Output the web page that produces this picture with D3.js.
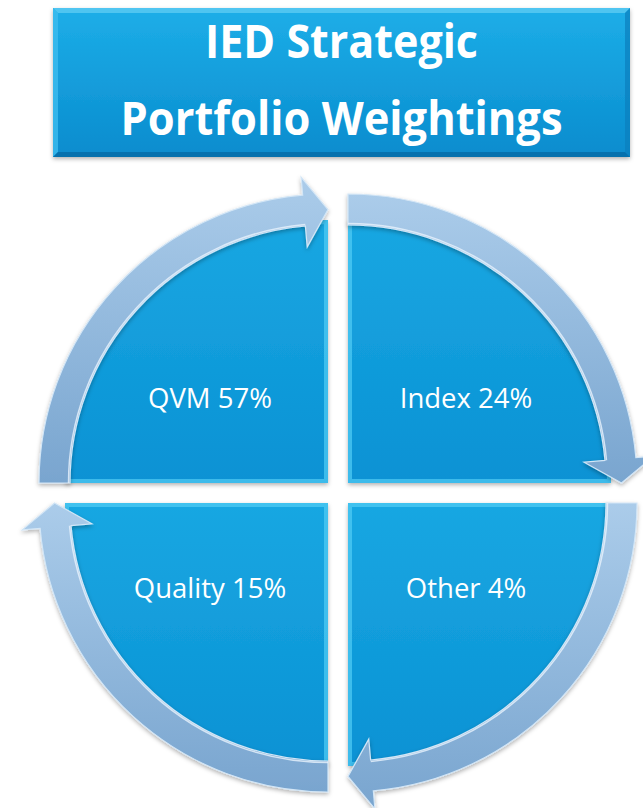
<!DOCTYPE html>
<html><head><meta charset="utf-8">
<script src="https://cdn.jsdelivr.net/npm/d3@7"></script>
<style>body{margin:0;background:#fff}svg{display:block}</style>
</head><body>
<script>
// ---- data ----
const titleLines = ["IED Strategic", "Portfolio Weightings"];
// quadrants in clockwise order starting top-left
const categories = ["QVM", "Index", "Other", "Quality"];
const weights = [57, 24, 4, 15];

// ---- layout ----
const W = 643, H = 808;
const svg = d3.select("body").append("svg").attr("width", W).attr("height", H);
const defs = svg.append("defs");

const sh = defs.append("filter").attr("id","shadow").attr("x","-10%").attr("y","-10%").attr("width","120%").attr("height","130%");
sh.append("feDropShadow").attr("dx",0).attr("dy",2).attr("stdDeviation",2).attr("flood-color","#000").attr("flood-opacity",0.3);

function vGrad(id, c0, c1) {
  const g = defs.append("linearGradient").attr("id", id).attr("x1",0).attr("y1",0).attr("x2",0).attr("y2",1);
  g.append("stop").attr("offset","0%").attr("stop-color", c0);
  g.append("stop").attr("offset","100%").attr("stop-color", c1);
}
vGrad("gBox", "#1DAEE8", "#0A8CCE");
vGrad("gQ", "#19A7E2", "#0A92D4");
vGrad("gA", "#ABCCEA", "#79A5CF");

// ---- title box ----
const bx = 53, by = 8, bw = 577, bh = 149, bev = 5;
const tg = svg.append("g");
tg.append("rect").attr("x",bx).attr("y",by).attr("width",bw).attr("height",bh)
  .attr("fill","url(#gBox)").attr("filter","url(#shadow)");
const bevels = [
  {pts:[[bx,by],[bx+bw,by],[bx+bw-bev,by+bev],[bx+bev,by+bev]], c:"#5CCBF3", o:0.8},
  {pts:[[bx,by],[bx+bev,by+bev],[bx+bev,by+bh-bev],[bx,by+bh]], c:"#3DBDEF", o:0.8},
  {pts:[[bx+bw,by],[bx+bw,by+bh],[bx+bw-bev,by+bh-bev],[bx+bw-bev,by+bev]], c:"#0B7FBE", o:0.7},
  {pts:[[bx,by+bh],[bx+bw,by+bh],[bx+bw-bev,by+bh-bev],[bx+bev,by+bh-bev]], c:"#066EAA", o:0.9}
];
tg.selectAll("polygon").data(bevels).join("polygon")
  .attr("points", d => d.pts.map(p => p.join(",")).join(" "))
  .attr("fill", d => d.c).attr("opacity", d => d.o);

const titleY = [58, 135];
const titleLen = [273, 442];
tg.selectAll("text").data(titleLines).join("text")
  .attr("x", bx + bw/2).attr("y", (d,i) => titleY[i])
  .attr("text-anchor","middle")
  .attr("textLength", (d,i) => titleLen[i]).attr("lengthAdjust","spacingAndGlyphs")
  .attr("font-family","'Open Sans', 'Noto Sans', sans-serif").attr("font-weight",700)
  .attr("font-size",46).attr("fill","#fff")
  .text(d => d);

// ---- cycle ----
const C = [338, 493];
const gap = 20;
const rIn = 258, rOut = 289, rMid = (rIn + rOut)/2;
const wingIn = 237, wingOut = 307, headLen = 24;
const angle = d3.scaleLinear().domain([0, categories.length]).range([-Math.PI/2, 3*Math.PI/2]);

const quads = categories.map((name, i) => {
  const a0 = angle(i), a1 = angle(i+1), mid = (a0 + a1)/2;
  const sx = Math.sign(Math.sin(mid)), sy = Math.sign(-Math.cos(mid));
  return {name, value: weights[i], i, a0, a1, sx, sy, c: [C[0] + sx*gap/2, C[1] + sy*gap/2]};
});

const qArc = d3.arc().innerRadius(0).outerRadius(rIn + 5);
const qPath = q => qArc({startAngle: q.a0, endAngle: q.a1});
const pt = (c, r, a) => [c[0] + r*Math.sin(a), c[1] - r*Math.cos(a)];

function arrowPath(q) {
  const {a0, a1, c} = q;
  const ab = a1 - headLen / rMid;
  const p = d3.path();
  p.moveTo(...pt(c, rOut, a0));
  p.arc(c[0], c[1], rOut, a0 - Math.PI/2, ab - Math.PI/2, false);
  p.lineTo(...pt(c, wingOut, ab));
  p.lineTo(...pt(c, rMid, a1));
  p.lineTo(...pt(c, wingIn, ab));
  p.lineTo(...pt(c, rIn, ab));
  p.arc(c[0], c[1], rIn, ab - Math.PI/2, a0 - Math.PI/2, true);
  p.closePath();
  return p.toString();
}
function innerEdge(q) {
  const {a0, a1, c} = q;
  const ab = a1 - headLen / rMid;
  const p = d3.path();
  p.moveTo(...pt(c, rIn + 1.5, a0));
  p.arc(c[0], c[1], rIn + 1.5, a0 - Math.PI/2, ab - Math.PI/2, false);
  return p.toString();
}

// clip paths for bevels
defs.selectAll("clipPath.q").data(quads).join("clipPath")
  .attr("class","q").attr("id", q => "cq" + q.i)
  .append("path").attr("d", qPath);

const qg = svg.append("g").selectAll("g").data(quads).join("g")
  .attr("transform", q => `translate(${q.c})`);
qg.append("path").attr("d", qPath).attr("fill","url(#gQ)").attr("filter","url(#shadow)");
qg.append("path").attr("d", qPath).attr("fill","none")
  .attr("stroke","#52CDF5").attr("stroke-width",8).attr("opacity",0.7)
  .attr("clip-path", q => `url(#cq${q.i})`);

// arrows
const ag = svg.append("g");
ag.selectAll("path.arrow").data(quads).join("path").attr("class","arrow")
  .attr("d", arrowPath)
  .attr("fill","url(#gA)")
  .attr("stroke","#D3E6F6").attr("stroke-width",1.2)
  .attr("filter","url(#shadow)");
ag.selectAll("path.hl").data(quads).join("path").attr("class","hl")
  .attr("d", innerEdge)
  .attr("fill","none").attr("stroke","#E8F3FC").attr("stroke-width",1.5).attr("opacity",0.8);

// labels
svg.append("g").selectAll("text").data(quads).join("text")
  .attr("x", q => q.c[0] + q.sx*118)
  .attr("y", q => q.c[1] + q.sy*85)
  .attr("dy","0.35em")
  .attr("text-anchor","middle")
  .attr("font-family","'Open Sans', 'Noto Sans', sans-serif")
  .attr("font-size",27.5).attr("fill","#fff")
  .text(q => `${q.name} ${q.value}%`);
</script>
</body></html>
